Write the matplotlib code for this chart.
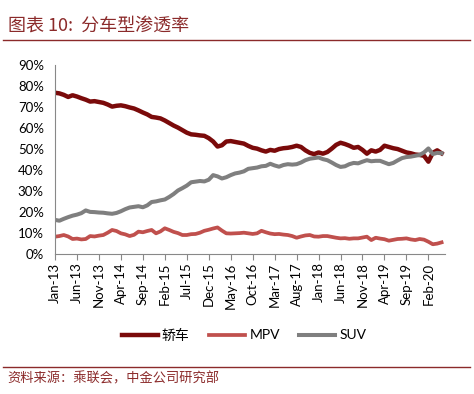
import matplotlib
matplotlib.use("Agg")
import matplotlib.pyplot as plt
from matplotlib.lines import Line2D

plt.rcParams['font.family'] = ['Lato', 'Noto Sans CJK SC', 'DejaVu Sans']

# monthly share, Jan-13 .. May-20 (%)
sedan = [76.8, 76.5, 75.8, 74.8, 75.6, 75.0, 74.2, 73.5, 72.6, 72.8,
         72.4, 72.0, 71.2, 70.2, 70.6, 70.8, 70.4, 69.8, 69.3, 68.4,
         67.4, 66.5, 65.3, 65.0, 64.6, 63.6, 62.4, 61.2, 60.2, 59.0,
         57.8, 57.0, 56.8, 56.5, 56.3, 55.2, 53.6, 51.2, 51.8, 53.6,
         53.8, 53.4, 53.0, 52.6, 51.5, 50.6, 50.2, 49.4, 48.8, 49.6,
         49.2, 50.0, 50.4, 50.6, 51.0, 51.6, 51.0, 49.4, 48.2, 47.6,
         48.4, 47.8, 48.6, 50.2, 52.0, 53.0, 52.4, 51.6, 50.6, 51.0,
         49.6, 47.8, 49.4, 48.8, 49.6, 51.6, 51.0, 50.4, 50.0, 49.2,
         48.4, 48.0, 47.4, 47.2, 46.8, 44.0, 48.2, 49.4, 48.0]
mpv = [8.3, 8.6, 9.1, 8.4, 7.2, 7.4, 7.0, 7.2, 8.6, 8.4,
       8.8, 9.1, 10.2, 11.5, 11.0, 9.9, 9.4, 8.6, 9.2, 10.7,
       10.4, 11.0, 11.5, 9.9, 10.8, 12.3, 11.5, 10.6, 10.0, 9.1,
       9.1, 9.5, 9.6, 10.2, 11.1, 11.6, 12.2, 12.7, 11.2, 9.9,
       9.8, 9.9, 10.0, 10.2, 9.9, 9.6, 9.9, 11.1, 10.4, 9.8,
       9.5, 9.6, 9.3, 9.1, 8.6, 7.8, 8.4, 8.9, 9.1, 8.4,
       8.3, 8.6, 8.6, 8.2, 7.8, 7.5, 7.6, 7.3, 7.5, 7.5,
       7.9, 8.3, 6.7, 7.8, 7.4, 7.1, 6.4, 6.8, 7.2, 7.3,
       7.5, 7.0, 6.7, 7.2, 6.9, 5.9, 4.7, 5.0, 5.6]
suv = [16.3, 15.9, 16.8, 17.6, 18.3, 18.8, 19.5, 20.8, 20.1, 20.0,
       19.8, 19.7, 19.4, 19.2, 19.6, 20.4, 21.4, 22.2, 22.5, 22.8,
       22.3, 23.2, 24.8, 25.1, 25.6, 26.0, 27.2, 28.6, 30.3, 31.4,
       32.6, 34.2, 34.5, 34.8, 34.6, 35.4, 37.6, 37.0, 36.0, 36.6,
       37.6, 38.4, 38.8, 39.4, 40.6, 40.9, 41.2, 41.8, 42.0, 43.0,
       42.2, 41.6, 42.4, 42.8, 42.6, 42.8, 43.6, 44.7, 45.4, 45.7,
       46.0, 45.2, 44.7, 43.6, 42.4, 41.5, 41.8, 42.8, 43.4, 43.2,
       44.0, 44.7, 44.2, 44.4, 44.4, 43.6, 42.8, 43.4, 44.6, 45.7,
       46.2, 46.4, 46.8, 47.2, 48.4, 50.3, 47.6, 48.2, 48.0]

tick_labels = ['Jan-13', 'Jun-13', 'Nov-13', 'Apr-14', 'Sep-14', 'Feb-15',
               'Jul-15', 'Dec-15', 'May-16', 'Oct-16', 'Mar-17', 'Aug-17',
               'Jan-18', 'Jun-18', 'Nov-18', 'Apr-19', 'Sep-19', 'Feb-20']
names = ['轿车', 'MPV', 'SUV']
colors = ['#7a0a0a', '#c0504d', '#7f7f7f']
widths = [3.2, 2.7, 2.9]

red = '#8b2a2a'
fig = plt.figure(figsize=(4.74, 3.94), dpi=100)

# header / footer
fig.text(0.017, 0.935, '图表 10:  分车型渗透率', fontsize=13, color=red,
         ha='left', va='center', family=['Noto Sans CJK SC'])
fig.add_artist(Line2D([0.006, 0.992], [0.898, 0.898], color=red, lw=1.0))
fig.add_artist(Line2D([0.006, 0.992], [0.068, 0.068], color=red, lw=1.0))
fig.text(0.015, 0.038, '资料来源：乘联会，中金公司研究部', fontsize=9.5, color=red,
         ha='left', va='center', family=['Noto Sans CJK SC'])

ax = fig.add_axes([0.116, 0.355, 0.823, 0.48])
x = list(range(len(sedan)))
for vals, name, c, w in zip([sedan, mpv, suv], names, colors, widths):
    ax.plot(x, vals, color=c, lw=w, label=name, solid_joinstyle='round')

ax.set_ylim(0, 90)
ax.set_yticks(range(0, 91, 10))
ax.set_yticklabels([f'{v}%' for v in range(0, 91, 10)], fontsize=9.5)
ax.set_xlim(0, 88.8)
ax.set_xticks(range(0, 5 * len(tick_labels), 5))
ax.set_xticklabels(tick_labels, rotation=90, fontsize=9.5)
ax.tick_params(axis='both', length=4, color='#888888', width=0.8, pad=2)
ax.tick_params(axis='y', length=0, pad=8)
for s in ['top', 'right']:
    ax.spines[s].set_visible(False)
for s in ['left', 'bottom']:
    ax.spines[s].set_color('#888888')
    ax.spines[s].set_linewidth(0.8)

fig.legend(loc='center', bbox_to_anchor=(0.515, 0.15), ncol=3, frameon=False,
           fontsize=10, handlelength=2.6, columnspacing=1.4, handletextpad=0.3)

fig.savefig('out.png', dpi=100)
